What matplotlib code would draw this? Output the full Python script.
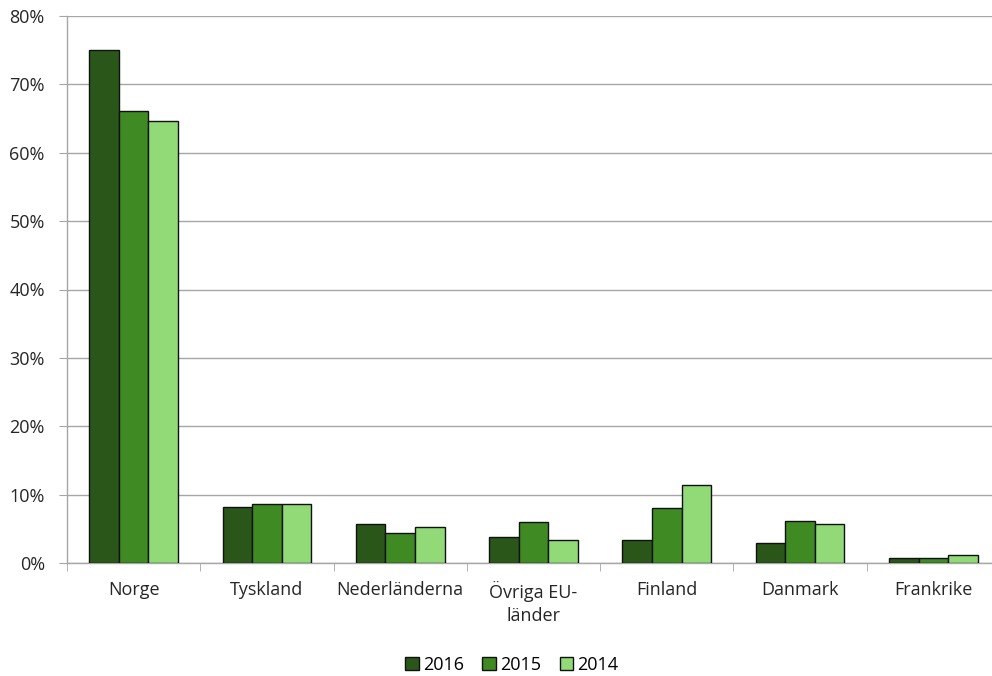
import matplotlib.pyplot as plt
import numpy as np

categories = ["Norge", "Tyskland", "Nederländerna", "Övriga EU-\nländer",
              "Finland", "Danmark", "Frankrike"]
years = ["2016", "2015", "2014"]
values_2016 = [75.0, 8.2, 5.75, 3.85, 3.3, 2.9, 0.7]
values_2015 = [66.1, 8.6, 4.4, 5.95, 8.0, 6.1, 0.7]
values_2014 = [64.6, 8.6, 5.2, 3.3, 11.35, 5.75, 1.2]
colors = ["#2b561a", "#3f8a22", "#92d978"]

plt.rcParams["font.family"] = ["Open Sans", "DejaVu Sans"]

fig = plt.figure(figsize=(9.92, 6.76), dpi=100)
# plot area runs a little past the right edge of the picture
ax = fig.add_axes([67 / 992, 1 - 563 / 676, 933 / 992, 547 / 676])

x = np.arange(len(categories))
width = 0.222
series = [values_2016, values_2015, values_2014]
for i, (vals, col, lab) in enumerate(zip(series, colors, years)):
    ax.bar(x + (i - 1) * width, vals, width, color=col, edgecolor="#111111",
           linewidth=1.0, label=lab, zorder=3)

ax.set_xlim(-0.5, len(categories) - 0.5)
ax.set_ylim(0, 80)
ax.set_yticks(range(0, 81, 10))
ax.set_yticklabels([f"{v}%" for v in range(0, 81, 10)])
ax.yaxis.grid(True, color="#a6a6a6", linewidth=1.0, zorder=0)

ax.set_xticks(x)
ax.set_xticklabels(categories, linespacing=1.35)
ax.set_xticks(np.arange(-0.5, len(categories) - 0.5, 1), minor=True)
ax.tick_params(axis="x", which="major", length=0, pad=13, labelsize=13,
               colors="#262626")
ax.tick_params(axis="x", which="minor", length=6, color="#a6a6a6")
ax.tick_params(axis="y", length=6, color="#a6a6a6", pad=10, labelsize=13,
               labelcolor="#262626")

for side in ["top", "right"]:
    ax.spines[side].set_visible(False)
for side in ["left", "bottom"]:
    ax.spines[side].set_color("#a6a6a6")
    ax.spines[side].set_linewidth(1.0)

fig.legend(loc="center", bbox_to_anchor=(512 / 992, 1 - 665 / 676), ncol=3,
           frameon=False, handlelength=0.75, handleheight=0.75,
           handletextpad=0.25, columnspacing=1.0, prop={"size": 13})

fig.savefig("out.png", dpi=100)
